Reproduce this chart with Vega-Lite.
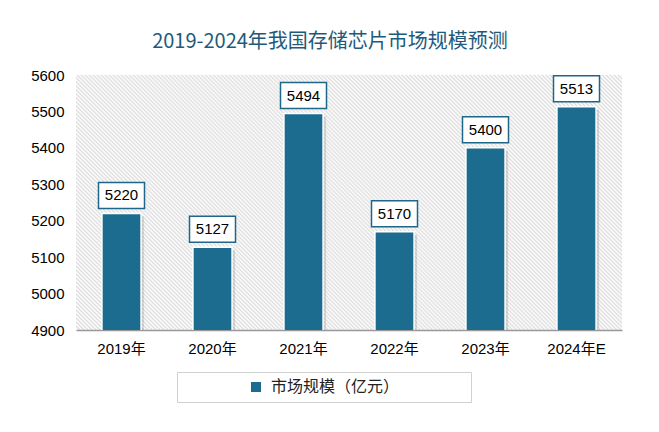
{
  "$schema": "https://vega.github.io/schema/vega-lite/v6.json",
  "width": 546,
  "height": 255,
  "autosize": {"type": "none"},
  "padding": {"left": 76, "top": 75, "right": 37, "bottom": 102},
  "background": "white",
  "config": {
    "view": {
      "stroke": null,
      "fill": {
        "gradient": "linear",
        "x1": 0, "y1": 1, "x2": 1.2044, "y2": 0.4375,
        "stops": [
{"offset":0,"color":"#ddd"},{"offset":0.0025,"color":"#fff"},{"offset":0.005,"color":"#ddd"},{"offset":0.0075,"color":"#fff"},
{"offset":0.01,"color":"#ddd"},{"offset":0.0125,"color":"#fff"},{"offset":0.015,"color":"#ddd"},{"offset":0.0175,"color":"#fff"},
{"offset":0.02,"color":"#ddd"},{"offset":0.0225,"color":"#fff"},{"offset":0.025,"color":"#ddd"},{"offset":0.0275,"color":"#fff"},
{"offset":0.03,"color":"#ddd"},{"offset":0.0325,"color":"#fff"},{"offset":0.035,"color":"#ddd"},{"offset":0.0375,"color":"#fff"},
{"offset":0.04,"color":"#ddd"},{"offset":0.0425,"color":"#fff"},{"offset":0.045,"color":"#ddd"},{"offset":0.0475,"color":"#fff"},
{"offset":0.05,"color":"#ddd"},{"offset":0.0525,"color":"#fff"},{"offset":0.055,"color":"#ddd"},{"offset":0.0575,"color":"#fff"},
{"offset":0.06,"color":"#ddd"},{"offset":0.0625,"color":"#fff"},{"offset":0.065,"color":"#ddd"},{"offset":0.0675,"color":"#fff"},
{"offset":0.07,"color":"#ddd"},{"offset":0.0725,"color":"#fff"},{"offset":0.075,"color":"#ddd"},{"offset":0.0775,"color":"#fff"},
{"offset":0.08,"color":"#ddd"},{"offset":0.0825,"color":"#fff"},{"offset":0.085,"color":"#ddd"},{"offset":0.0875,"color":"#fff"},
{"offset":0.09,"color":"#ddd"},{"offset":0.0925,"color":"#fff"},{"offset":0.095,"color":"#ddd"},{"offset":0.0975,"color":"#fff"},
{"offset":0.1,"color":"#ddd"},{"offset":0.1025,"color":"#fff"},{"offset":0.105,"color":"#ddd"},{"offset":0.1075,"color":"#fff"},
{"offset":0.11,"color":"#ddd"},{"offset":0.1125,"color":"#fff"},{"offset":0.115,"color":"#ddd"},{"offset":0.1175,"color":"#fff"},
{"offset":0.12,"color":"#ddd"},{"offset":0.1225,"color":"#fff"},{"offset":0.125,"color":"#ddd"},{"offset":0.1275,"color":"#fff"},
{"offset":0.13,"color":"#ddd"},{"offset":0.1325,"color":"#fff"},{"offset":0.135,"color":"#ddd"},{"offset":0.1375,"color":"#fff"},
{"offset":0.14,"color":"#ddd"},{"offset":0.1425,"color":"#fff"},{"offset":0.145,"color":"#ddd"},{"offset":0.1475,"color":"#fff"},
{"offset":0.15,"color":"#ddd"},{"offset":0.1525,"color":"#fff"},{"offset":0.155,"color":"#ddd"},{"offset":0.1575,"color":"#fff"},
{"offset":0.16,"color":"#ddd"},{"offset":0.1625,"color":"#fff"},{"offset":0.165,"color":"#ddd"},{"offset":0.1675,"color":"#fff"},
{"offset":0.17,"color":"#ddd"},{"offset":0.1725,"color":"#fff"},{"offset":0.175,"color":"#ddd"},{"offset":0.1775,"color":"#fff"},
{"offset":0.18,"color":"#ddd"},{"offset":0.1825,"color":"#fff"},{"offset":0.185,"color":"#ddd"},{"offset":0.1875,"color":"#fff"},
{"offset":0.19,"color":"#ddd"},{"offset":0.1925,"color":"#fff"},{"offset":0.195,"color":"#ddd"},{"offset":0.1975,"color":"#fff"},
{"offset":0.2,"color":"#ddd"},{"offset":0.2025,"color":"#fff"},{"offset":0.205,"color":"#ddd"},{"offset":0.2075,"color":"#fff"},
{"offset":0.21,"color":"#ddd"},{"offset":0.2125,"color":"#fff"},{"offset":0.215,"color":"#ddd"},{"offset":0.2175,"color":"#fff"},
{"offset":0.22,"color":"#ddd"},{"offset":0.2225,"color":"#fff"},{"offset":0.225,"color":"#ddd"},{"offset":0.2275,"color":"#fff"},
{"offset":0.23,"color":"#ddd"},{"offset":0.2325,"color":"#fff"},{"offset":0.235,"color":"#ddd"},{"offset":0.2375,"color":"#fff"},
{"offset":0.24,"color":"#ddd"},{"offset":0.2425,"color":"#fff"},{"offset":0.245,"color":"#ddd"},{"offset":0.2475,"color":"#fff"},
{"offset":0.25,"color":"#ddd"},{"offset":0.2525,"color":"#fff"},{"offset":0.255,"color":"#ddd"},{"offset":0.2575,"color":"#fff"},
{"offset":0.26,"color":"#ddd"},{"offset":0.2625,"color":"#fff"},{"offset":0.265,"color":"#ddd"},{"offset":0.2675,"color":"#fff"},
{"offset":0.27,"color":"#ddd"},{"offset":0.2725,"color":"#fff"},{"offset":0.275,"color":"#ddd"},{"offset":0.2775,"color":"#fff"},
{"offset":0.28,"color":"#ddd"},{"offset":0.2825,"color":"#fff"},{"offset":0.285,"color":"#ddd"},{"offset":0.2875,"color":"#fff"},
{"offset":0.29,"color":"#ddd"},{"offset":0.2925,"color":"#fff"},{"offset":0.295,"color":"#ddd"},{"offset":0.2975,"color":"#fff"},
{"offset":0.3,"color":"#ddd"},{"offset":0.3025,"color":"#fff"},{"offset":0.305,"color":"#ddd"},{"offset":0.3075,"color":"#fff"},
{"offset":0.31,"color":"#ddd"},{"offset":0.3125,"color":"#fff"},{"offset":0.315,"color":"#ddd"},{"offset":0.3175,"color":"#fff"},
{"offset":0.32,"color":"#ddd"},{"offset":0.3225,"color":"#fff"},{"offset":0.325,"color":"#ddd"},{"offset":0.3275,"color":"#fff"},
{"offset":0.33,"color":"#ddd"},{"offset":0.3325,"color":"#fff"},{"offset":0.335,"color":"#ddd"},{"offset":0.3375,"color":"#fff"},
{"offset":0.34,"color":"#ddd"},{"offset":0.3425,"color":"#fff"},{"offset":0.345,"color":"#ddd"},{"offset":0.3475,"color":"#fff"},
{"offset":0.35,"color":"#ddd"},{"offset":0.3525,"color":"#fff"},{"offset":0.355,"color":"#ddd"},{"offset":0.3575,"color":"#fff"},
{"offset":0.36,"color":"#ddd"},{"offset":0.3625,"color":"#fff"},{"offset":0.365,"color":"#ddd"},{"offset":0.3675,"color":"#fff"},
{"offset":0.37,"color":"#ddd"},{"offset":0.3725,"color":"#fff"},{"offset":0.375,"color":"#ddd"},{"offset":0.3775,"color":"#fff"},
{"offset":0.38,"color":"#ddd"},{"offset":0.3825,"color":"#fff"},{"offset":0.385,"color":"#ddd"},{"offset":0.3875,"color":"#fff"},
{"offset":0.39,"color":"#ddd"},{"offset":0.3925,"color":"#fff"},{"offset":0.395,"color":"#ddd"},{"offset":0.3975,"color":"#fff"},
{"offset":0.4,"color":"#ddd"},{"offset":0.4025,"color":"#fff"},{"offset":0.405,"color":"#ddd"},{"offset":0.4075,"color":"#fff"},
{"offset":0.41,"color":"#ddd"},{"offset":0.4125,"color":"#fff"},{"offset":0.415,"color":"#ddd"},{"offset":0.4175,"color":"#fff"},
{"offset":0.42,"color":"#ddd"},{"offset":0.4225,"color":"#fff"},{"offset":0.425,"color":"#ddd"},{"offset":0.4275,"color":"#fff"},
{"offset":0.43,"color":"#ddd"},{"offset":0.4325,"color":"#fff"},{"offset":0.435,"color":"#ddd"},{"offset":0.4375,"color":"#fff"},
{"offset":0.44,"color":"#ddd"},{"offset":0.4425,"color":"#fff"},{"offset":0.445,"color":"#ddd"},{"offset":0.4475,"color":"#fff"},
{"offset":0.45,"color":"#ddd"},{"offset":0.4525,"color":"#fff"},{"offset":0.455,"color":"#ddd"},{"offset":0.4575,"color":"#fff"},
{"offset":0.46,"color":"#ddd"},{"offset":0.4625,"color":"#fff"},{"offset":0.465,"color":"#ddd"},{"offset":0.4675,"color":"#fff"},
{"offset":0.47,"color":"#ddd"},{"offset":0.4725,"color":"#fff"},{"offset":0.475,"color":"#ddd"},{"offset":0.4775,"color":"#fff"},
{"offset":0.48,"color":"#ddd"},{"offset":0.4825,"color":"#fff"},{"offset":0.485,"color":"#ddd"},{"offset":0.4875,"color":"#fff"},
{"offset":0.49,"color":"#ddd"},{"offset":0.4925,"color":"#fff"},{"offset":0.495,"color":"#ddd"},{"offset":0.4975,"color":"#fff"},
{"offset":0.5,"color":"#ddd"},{"offset":0.5025,"color":"#fff"},{"offset":0.505,"color":"#ddd"},{"offset":0.5075,"color":"#fff"},
{"offset":0.51,"color":"#ddd"},{"offset":0.5125,"color":"#fff"},{"offset":0.515,"color":"#ddd"},{"offset":0.5175,"color":"#fff"},
{"offset":0.52,"color":"#ddd"},{"offset":0.5225,"color":"#fff"},{"offset":0.525,"color":"#ddd"},{"offset":0.5275,"color":"#fff"},
{"offset":0.53,"color":"#ddd"},{"offset":0.5325,"color":"#fff"},{"offset":0.535,"color":"#ddd"},{"offset":0.5375,"color":"#fff"},
{"offset":0.54,"color":"#ddd"},{"offset":0.5425,"color":"#fff"},{"offset":0.545,"color":"#ddd"},{"offset":0.5475,"color":"#fff"},
{"offset":0.55,"color":"#ddd"},{"offset":0.5525,"color":"#fff"},{"offset":0.555,"color":"#ddd"},{"offset":0.5575,"color":"#fff"},
{"offset":0.56,"color":"#ddd"},{"offset":0.5625,"color":"#fff"},{"offset":0.565,"color":"#ddd"},{"offset":0.5675,"color":"#fff"},
{"offset":0.57,"color":"#ddd"},{"offset":0.5725,"color":"#fff"},{"offset":0.575,"color":"#ddd"},{"offset":0.5775,"color":"#fff"},
{"offset":0.58,"color":"#ddd"},{"offset":0.5825,"color":"#fff"},{"offset":0.585,"color":"#ddd"},{"offset":0.5875,"color":"#fff"},
{"offset":0.59,"color":"#ddd"},{"offset":0.5925,"color":"#fff"},{"offset":0.595,"color":"#ddd"},{"offset":0.5975,"color":"#fff"},
{"offset":0.6,"color":"#ddd"},{"offset":0.6025,"color":"#fff"},{"offset":0.605,"color":"#ddd"},{"offset":0.6075,"color":"#fff"},
{"offset":0.61,"color":"#ddd"},{"offset":0.6125,"color":"#fff"},{"offset":0.615,"color":"#ddd"},{"offset":0.6175,"color":"#fff"},
{"offset":0.62,"color":"#ddd"},{"offset":0.6225,"color":"#fff"},{"offset":0.625,"color":"#ddd"},{"offset":0.6275,"color":"#fff"},
{"offset":0.63,"color":"#ddd"},{"offset":0.6325,"color":"#fff"},{"offset":0.635,"color":"#ddd"},{"offset":0.6375,"color":"#fff"},
{"offset":0.64,"color":"#ddd"},{"offset":0.6425,"color":"#fff"},{"offset":0.645,"color":"#ddd"},{"offset":0.6475,"color":"#fff"},
{"offset":0.65,"color":"#ddd"},{"offset":0.6525,"color":"#fff"},{"offset":0.655,"color":"#ddd"},{"offset":0.6575,"color":"#fff"},
{"offset":0.66,"color":"#ddd"},{"offset":0.6625,"color":"#fff"},{"offset":0.665,"color":"#ddd"},{"offset":0.6675,"color":"#fff"},
{"offset":0.67,"color":"#ddd"},{"offset":0.6725,"color":"#fff"},{"offset":0.675,"color":"#ddd"},{"offset":0.6775,"color":"#fff"},
{"offset":0.68,"color":"#ddd"},{"offset":0.6825,"color":"#fff"},{"offset":0.685,"color":"#ddd"},{"offset":0.6875,"color":"#fff"},
{"offset":0.69,"color":"#ddd"},{"offset":0.6925,"color":"#fff"},{"offset":0.695,"color":"#ddd"},{"offset":0.6975,"color":"#fff"},
{"offset":0.7,"color":"#ddd"},{"offset":0.7025,"color":"#fff"},{"offset":0.705,"color":"#ddd"},{"offset":0.7075,"color":"#fff"},
{"offset":0.71,"color":"#ddd"},{"offset":0.7125,"color":"#fff"},{"offset":0.715,"color":"#ddd"},{"offset":0.7175,"color":"#fff"},
{"offset":0.72,"color":"#ddd"},{"offset":0.7225,"color":"#fff"},{"offset":0.725,"color":"#ddd"},{"offset":0.7275,"color":"#fff"},
{"offset":0.73,"color":"#ddd"},{"offset":0.7325,"color":"#fff"},{"offset":0.735,"color":"#ddd"},{"offset":0.7375,"color":"#fff"},
{"offset":0.74,"color":"#ddd"},{"offset":0.7425,"color":"#fff"},{"offset":0.745,"color":"#ddd"},{"offset":0.7475,"color":"#fff"},
{"offset":0.75,"color":"#ddd"},{"offset":0.7525,"color":"#fff"},{"offset":0.755,"color":"#ddd"},{"offset":0.7575,"color":"#fff"},
{"offset":0.76,"color":"#ddd"},{"offset":0.7625,"color":"#fff"},{"offset":0.765,"color":"#ddd"},{"offset":0.7675,"color":"#fff"},
{"offset":0.77,"color":"#ddd"},{"offset":0.7725,"color":"#fff"},{"offset":0.775,"color":"#ddd"},{"offset":0.7775,"color":"#fff"},
{"offset":0.78,"color":"#ddd"},{"offset":0.7825,"color":"#fff"},{"offset":0.785,"color":"#ddd"},{"offset":0.7875,"color":"#fff"},
{"offset":0.79,"color":"#ddd"},{"offset":0.7925,"color":"#fff"},{"offset":0.795,"color":"#ddd"},{"offset":0.7975,"color":"#fff"},
{"offset":0.8,"color":"#ddd"},{"offset":0.8025,"color":"#fff"},{"offset":0.805,"color":"#ddd"},{"offset":0.8075,"color":"#fff"},
{"offset":0.81,"color":"#ddd"},{"offset":0.8125,"color":"#fff"},{"offset":0.815,"color":"#ddd"},{"offset":0.8175,"color":"#fff"},
{"offset":0.82,"color":"#ddd"},{"offset":0.8225,"color":"#fff"},{"offset":0.825,"color":"#ddd"},{"offset":0.8275,"color":"#fff"},
{"offset":0.83,"color":"#ddd"},{"offset":0.8325,"color":"#fff"},{"offset":0.835,"color":"#ddd"},{"offset":0.8375,"color":"#fff"},
{"offset":0.84,"color":"#ddd"},{"offset":0.8425,"color":"#fff"},{"offset":0.845,"color":"#ddd"},{"offset":0.8475,"color":"#fff"},
{"offset":0.85,"color":"#ddd"},{"offset":0.8525,"color":"#fff"},{"offset":0.855,"color":"#ddd"},{"offset":0.8575,"color":"#fff"},
{"offset":0.86,"color":"#ddd"},{"offset":0.8625,"color":"#fff"},{"offset":0.865,"color":"#ddd"},{"offset":0.8675,"color":"#fff"},
{"offset":0.87,"color":"#ddd"},{"offset":0.8725,"color":"#fff"},{"offset":0.875,"color":"#ddd"},{"offset":0.8775,"color":"#fff"},
{"offset":0.88,"color":"#ddd"},{"offset":0.8825,"color":"#fff"},{"offset":0.885,"color":"#ddd"},{"offset":0.8875,"color":"#fff"},
{"offset":0.89,"color":"#ddd"},{"offset":0.8925,"color":"#fff"},{"offset":0.895,"color":"#ddd"},{"offset":0.8975,"color":"#fff"},
{"offset":0.9,"color":"#ddd"},{"offset":0.9025,"color":"#fff"},{"offset":0.905,"color":"#ddd"},{"offset":0.9075,"color":"#fff"},
{"offset":0.91,"color":"#ddd"},{"offset":0.9125,"color":"#fff"},{"offset":0.915,"color":"#ddd"},{"offset":0.9175,"color":"#fff"},
{"offset":0.92,"color":"#ddd"},{"offset":0.9225,"color":"#fff"},{"offset":0.925,"color":"#ddd"},{"offset":0.9275,"color":"#fff"},
{"offset":0.93,"color":"#ddd"},{"offset":0.9325,"color":"#fff"},{"offset":0.935,"color":"#ddd"},{"offset":0.9375,"color":"#fff"},
{"offset":0.94,"color":"#ddd"},{"offset":0.9425,"color":"#fff"},{"offset":0.945,"color":"#ddd"},{"offset":0.9475,"color":"#fff"},
{"offset":0.95,"color":"#ddd"},{"offset":0.9525,"color":"#fff"},{"offset":0.955,"color":"#ddd"},{"offset":0.9575,"color":"#fff"},
{"offset":0.96,"color":"#ddd"},{"offset":0.9625,"color":"#fff"},{"offset":0.965,"color":"#ddd"},{"offset":0.9675,"color":"#fff"},
{"offset":0.97,"color":"#ddd"},{"offset":0.9725,"color":"#fff"},{"offset":0.975,"color":"#ddd"},{"offset":0.9775,"color":"#fff"},
{"offset":0.98,"color":"#ddd"},{"offset":0.9825,"color":"#fff"},{"offset":0.985,"color":"#ddd"},{"offset":0.9875,"color":"#fff"},
{"offset":0.99,"color":"#ddd"},{"offset":0.9925,"color":"#fff"},{"offset":0.995,"color":"#ddd"},{"offset":0.9975,"color":"#fff"},
{"offset":1,"color":"#ddd"}
        ]
      }
    },
    "font": "Liberation Sans, Noto Sans CJK SC"
  },
  "title": {
    "text": "2019-2024年我国存储芯片市场规模预测",
    "font": "Noto Sans CJK SC",
    "fontSize": 20,
    "fontWeight": "normal",
    "color": "#1E5B7B",
    "anchor": "middle",
    "baseline": "alphabetic",
    "offset": 0,
    "dx": -19
  },
  "data": {
    "values": [
      {"year": "2019年", "value": 5220},
      {"year": "2020年", "value": 5127},
      {"year": "2021年", "value": 5494},
      {"year": "2022年", "value": 5170},
      {"year": "2023年", "value": 5400},
      {"year": "2024年E", "value": 5513}
    ]
  },
  "encoding": {
    "x": {
      "field": "year",
      "type": "nominal",
      "sort": null,
      "scale": {"paddingInner": 0.57, "paddingOuter": 0.285},
      "axis": {
        "title": null,
        "labelAngle": 0,
        "labelFontSize": 15,
        "labelColor": "#000000",
        "labelPadding": 11,
        "ticks": false,
        "domainColor": "#999999",
        "domainWidth": 1.5
      }
    },
    "y": {
      "field": "value",
      "type": "quantitative",
      "scale": {"domain": [4900, 5600], "zero": false, "nice": false},
      "axis": {
        "title": null,
        "values": [4900, 5000, 5100, 5200, 5300, 5400, 5500, 5600],
        "format": "d",
        "labelFontSize": 15,
        "labelColor": "#000000",
        "labelPadding": 12,
        "ticks": false,
        "domain": false,
        "grid": false
      }
    }
  },
  "layer": [
    {
      "mark": {"type": "bar", "color": "#000000", "opacity": 0.12, "xOffset": 3, "yOffset": 3, "clip": true}
    },
    {
      "mark": {"type": "bar", "stroke": "white", "strokeWidth": 1.5, "clip": true},
      "encoding": {
        "color": {
          "datum": "市场规模（亿元）",
          "type": "nominal",
          "scale": {
            "domain": ["a", "市场规模（亿元）", "c"],
            "range": ["rgba(0,0,0,0)", "#1B6C8E", "rgba(0,0,0,0)"]
          },
          "legend": {
            "orient": "none",
            "direction": "horizontal",
            "legendX": 101,
            "legendY": 297,
            "title": null,
            "symbolType": "square",
            "symbolSize": 100,
            "symbolStrokeWidth": 0,
            "labelFontSize": 16,
            "labelColor": "#222222",
            "labelFont": "Noto Sans CJK SC",
            "strokeColor": "#D0D0D0",
            "padding": 7,
            "symbolOffset": 0,
            "labelOffset": 7,
            "columnPadding": 41,
            "labelExpr": "datum.label == 'a' || datum.label == 'c' ? '' : datum.label"
          }
        }
      }
    },
    {
      "mark": {
        "type": "point",
        "shape": "M-1,-0.565L1,-0.565L1,0.565L-1,0.565Z",
        "size": 2116,
        "filled": true,
        "fill": "white",
        "stroke": "#1F6688",
        "strokeWidth": 1.5,
        "opacity": 1,
        "yOffset": -18
      }
    },
    {
      "mark": {
        "type": "text",
        "fontSize": 15,
        "color": "#000000",
        "baseline": "middle",
        "yOffset": -18
      },
      "encoding": {"text": {"field": "value", "type": "quantitative"}}
    }
  ]
}
